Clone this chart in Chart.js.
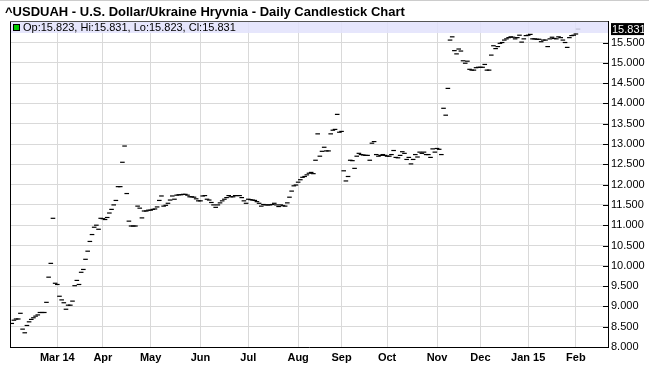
<!DOCTYPE html>
<html>
<head>
<meta charset="utf-8">
<script src="https://cdn.jsdelivr.net/npm/chart.js@4.4.1/dist/chart.umd.min.js"></script>
<style>
  html, body { margin: 0; padding: 0; background: #fff; }
  #wrap { width: 649px; height: 365px; }
</style>
</head>
<body>
<div id="wrap"><canvas id="chart" width="649" height="365"></canvas></div>
<script>
// daily closes, one per trading day, Feb 3 2014 .. Feb 2 2015
const closes = [
  8.58, 8.66, 8.69, 8.69, 8.83, 8.44, 8.35, 8.53, 8.62, 8.68,
  8.72, 8.76, 8.79, 8.85, 8.85, 8.85, 9.10, 9.72, 10.06, 11.17,
  9.57, 9.54, 9.25, 9.16, 9.09, 8.93, 9.03, 9.03, 9.13, 9.51,
  9.64, 9.54, 9.84, 9.91, 10.16, 10.36, 10.60, 10.77, 10.95, 11.00,
  10.90, 11.17, 11.16, 11.14, 11.19, 11.30, 11.39, 11.50, 11.61, 11.95,
  11.95, 12.55, 12.95, 11.78, 11.10, 10.98, 10.98, 10.98, 11.47, 11.42,
  11.18, 11.35, 11.35, 11.37, 11.37, 11.39, 11.40, 11.45, 11.61, 11.72,
  11.47, 11.49, 11.54, 11.62, 11.72, 11.64, 11.74, 11.75, 11.75, 11.76,
  11.76, 11.74, 11.70, 11.70, 11.69, 11.65, 11.60, 11.60, 11.72, 11.73,
  11.64, 11.62, 11.56, 11.50, 11.44, 11.50, 11.55, 11.60, 11.64, 11.68,
  11.73, 11.70, 11.70, 11.73, 11.73, 11.73, 11.68, 11.60, 11.54, 11.64,
  11.63, 11.62, 11.61, 11.58, 11.54, 11.47, 11.51, 11.50, 11.50, 11.50,
  11.51, 11.54, 11.50, 11.46, 11.50, 11.48, 11.47, 11.55, 11.69, 11.84,
  11.97, 11.99, 12.06, 12.12, 12.18, 12.20, 12.24, 12.28, 12.30, 12.27,
  12.60, 13.25, 12.70, 12.82, 12.92, 12.83, 12.83, 13.25, 13.34, 13.36,
  13.73, 13.29, 13.31, 12.34, 12.09, 12.20, 12.60, 12.59, 12.40, 12.70,
  12.77, 12.74, 12.73, 12.72, 12.72, 12.60, 13.02, 13.06, 12.74, 12.70,
  12.72, 12.74, 12.72, 12.70, 12.70, 12.74, 12.84, 12.67, 12.66, 12.72,
  12.81, 12.77, 12.62, 12.67, 12.51, 12.62, 12.74, 12.68, 12.80, 12.77,
  12.80, 12.74, 12.74, 12.67, 12.88, 12.80, 12.89, 12.87, 12.74, 13.88,
  13.71, 14.37, 15.56, 15.64, 15.30, 15.22, 15.34, 15.29, 15.05, 14.99,
  15.04, 14.84, 14.82, 14.82, 14.88, 14.89, 14.89, 14.89, 14.96, 14.82,
  14.82, 15.19, 15.42, 15.35, 15.40, 15.48, 15.50, 15.56, 15.59, 15.62,
  15.64, 15.63, 15.59, 15.62, 15.68, 15.51, 15.59, 15.67, 15.68, 15.70,
  15.59, 15.59, 15.58, 15.58, 15.52, 15.56, 15.56, 15.40, 15.59, 15.63,
  15.60, 15.59, 15.64, 15.62, 15.56, 15.50, 15.38, 15.62, 15.67, 15.68,
  15.71, 15.831
];

// month starts (trading-day index) and their labels
const monthIdx = [21, 42, 64, 87, 109, 132, 152, 173, 196, 216, 238, 260];
const monthLabels = ['Mar 14', 'Apr', 'May', 'Jun', 'Jul', 'Aug', 'Sep', 'Oct', 'Nov', 'Dec', 'Jan 15', 'Feb'];
const yTicks = [8, 8.5, 9, 9.5, 10, 10.5, 11, 11.5, 12, 12.5, 13, 13.5, 14, 14.5, 15, 15.5];

// last bar for the legend strip
const lastBar = { op: 15.823, hi: 15.831, lo: 15.823, cl: 15.831 };
const title = '^USDUAH - U.S. Dollar/Ukraine Hryvnia - Daily Candlestick Chart';

const FONT = '"Liberation Sans", Arial, sans-serif';

const chrome = {
  id: 'chrome',
  beforeDraw(chart) {
    const { ctx, width } = chart;
    ctx.save();
    ctx.strokeStyle = '#cccccc';
    ctx.lineWidth = 1;
    ctx.beginPath();
    ctx.moveTo(0, 0.5);
    ctx.lineTo(width, 0.5);
    ctx.stroke();
    ctx.fillStyle = '#000';
    ctx.font = 'bold 13px ' + FONT;
    ctx.textBaseline = 'alphabetic';
    ctx.fillText(title, 5, 16);
    ctx.restore();
  },
  afterDatasetsDraw(chart) {
    const { ctx, chartArea: a, scales } = chart;
    ctx.save();
    // legend strip
    ctx.fillStyle = 'rgba(226, 226, 252, 0.85)';
    ctx.fillRect(a.left, a.top, a.right - a.left, 12);
    ctx.fillStyle = '#00cc00';
    ctx.fillRect(a.left + 3.5, a.top + 3.5, 6, 6);
    ctx.strokeStyle = '#000';
    ctx.lineWidth = 1;
    ctx.strokeRect(a.left + 3.5, a.top + 3.5, 6, 6);
    ctx.fillStyle = '#000';
    ctx.font = '11px ' + FONT;
    ctx.fillText('Op:' + lastBar.op.toFixed(3) + ', Hi:' + lastBar.hi.toFixed(3) +
      ', Lo:' + lastBar.lo.toFixed(3) + ', Cl:' + lastBar.cl.toFixed(3), a.left + 13, a.top + 10);
    // frame
    ctx.strokeStyle = '#000';
    ctx.beginPath();
    ctx.moveTo(a.left + 0.5, a.top);
    ctx.lineTo(a.left + 0.5, a.bottom);
    ctx.stroke();
    ctx.strokeStyle = '#555';
    ctx.beginPath();
    ctx.moveTo(a.left, a.top + 0.5);
    ctx.lineTo(a.right, a.top + 0.5);
    ctx.stroke();
    // inner ticks on the price axis
    ctx.strokeStyle = '#000';
    yTicks.forEach(v => {
      const y = Math.round(scales.y.getPixelForValue(v)) + 0.5;
      ctx.beginPath();
      ctx.moveTo(a.right - 5, y);
      ctx.lineTo(a.right, y);
      ctx.stroke();
    });
    // last value box
    const ly = scales.y.getPixelForValue(lastBar.cl);
    ctx.fillStyle = '#000';
    ctx.fillRect(a.right + 3, ly - 6, 33, 12);
    ctx.fillStyle = '#fff';
    ctx.font = '11px ' + FONT;
    ctx.textBaseline = 'middle';
    ctx.fillText(lastBar.cl.toFixed(3), a.right + 4, ly + 0.5);
    ctx.restore();
  }
};

const ctx = document.getElementById('chart').getContext('2d');
new Chart(ctx, {
  type: 'scatter',
  data: {
    datasets: [{
      data: closes.map((v, i) => ({ x: i, y: v })),
      pointStyle: 'line',
      pointRadius: 2.3,
      pointHoverRadius: 2.3,
      pointBorderColor: '#000',
      pointBorderWidth: 1.2,
    }],
  },
  options: {
    responsive: false,
    animation: false,
    events: [],
    layout: { padding: { left: 10, top: 21, right: 0, bottom: 0 } },
    plugins: {
      legend: { display: false },
      tooltip: { enabled: false },
    },
    scales: {
      x: {
        type: 'linear',
        min: -0.8,
        max: 274.8,
        afterBuildTicks: axis => { axis.ticks = monthIdx.map(v => ({ value: v })); },
        afterFit: axis => { axis.height = 18; },
        grid: { color: '#d9d9d9', drawTicks: false },
        border: { color: '#000' },
        ticks: {
          autoSkip: false,
          maxRotation: 0,
          padding: 4,
          color: '#000',
          font: { family: FONT, size: 11, weight: 'bold' },
          callback: v => monthLabels[monthIdx.indexOf(v)],
        },
      },
      y: {
        position: 'right',
        min: 8,
        max: 16.03,
        afterBuildTicks: axis => { axis.ticks = yTicks.map(v => ({ value: v })); },
        afterFit: axis => { axis.width = 41; },
        grid: { color: '#d9d9d9', drawTicks: false },
        border: { color: '#000' },
        ticks: {
          padding: 3,
          color: '#000',
          font: { family: FONT, size: 11 },
          callback: v => v.toFixed(3),
        },
      },
    },
  },
  plugins: [chrome],
});
</script>
</body>
</html>
